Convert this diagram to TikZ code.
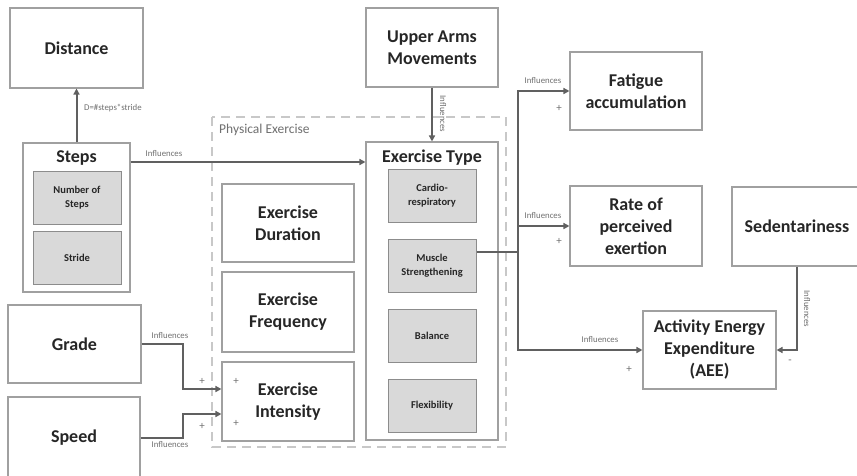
\documentclass[tikz,border=0pt]{standalone}
\usepackage{fontspec}
\setmainfont{Carlito}
\usetikzlibrary{arrows.meta}
\definecolor{txt}{HTML}{262626}
\definecolor{bord}{HTML}{A0A0A0}
\definecolor{conn}{HTML}{606060}
\definecolor{subfill}{HTML}{D9D9D9}
\definecolor{subbord}{HTML}{8C8C8C}
\definecolor{dashgray}{HTML}{C8C8C8}
\definecolor{lbl}{HTML}{707070}
\tikzset{
  box/.style={draw=bord, line width=1.1pt, fill=white, text=txt, align=center,
    font=\fontsize{18}{22}\selectfont\bfseries, inner sep=0pt},
  subbox/.style={draw=subbord, line width=1pt, fill=subfill, text=txt, align=center,
    font=\fontsize{10.5}{14}\selectfont\bfseries, inner sep=0pt,
    minimum width=88pt, minimum height=53pt},
  ttl/.style={text=txt, font=\fontsize{18}{22}\selectfont\bfseries, inner sep=0pt},
  wire/.style={draw=conn, line width=2pt},
  arr/.style={wire, -{Triangle[length=6pt,width=6pt]}},
  lab/.style={text=lbl, font=\fontsize{8.8}{10}\selectfont, inner sep=0pt},
  sign/.style={text=lbl, font=\fontsize{11}{12}\selectfont, inner sep=0pt},
}
\begin{document}
\begin{tikzpicture}[x=1pt,y=-1pt]
\useasboundingbox (0,0) rectangle (857,475);
\fill[white] (0,0) rectangle (857,475);
% dashed group
\draw[draw=dashgray, line width=1.6pt, dash pattern=on 9pt off 6pt] (212,117) rectangle (506,447);
\node[anchor=west, text=lbl, font=\fontsize{13.5}{15}\selectfont, inner sep=0pt] (pe) at (219,130) {Physical Exercise};
% boxes
\node[box, minimum width=133pt, minimum height=80pt] (dist) at (76.5,48) {Distance};
\node[box, minimum width=107pt, minimum height=149pt] (steps) at (76.5,217.5) {};
\node[ttl] (stepst) at (76.5,158) {Steps};
\node[subbox] (nos) at (77,197.5) {Number of\\Steps};
\node[subbox] (stride) at (77,257.5) {Stride};
\node[box, minimum width=132pt, minimum height=79pt] (upper) at (432,47.5) {Upper Arms\\Movements};
\node[box, minimum width=132pt, minimum height=298pt] (etype) at (432,291) {};
\node[ttl] (etypet) at (432,158) {Exercise Type};
\node[subbox] (cardio) at (432,195.5) {Cardio-\\respiratory};
\node[subbox] (muscle) at (432,265.5) {Muscle\\Strengthening};
\node[subbox] (balance) at (432,335.5) {Balance};
\node[subbox] (flex) at (432,405.5) {Flexibility};
\node[box, minimum width=132pt, minimum height=78pt] (dur) at (288,223) {Exercise\\Duration};
\node[box, minimum width=132pt, minimum height=80pt] (freq) at (288,312) {Exercise\\Frequency};
\node[box, minimum width=132pt, minimum height=79pt] (inten) at (288,401.5) {Exercise\\Intensity};
\node[box, minimum width=133pt, minimum height=78pt] (grade) at (74.5,344) {Grade};
\node[box, minimum width=132pt, minimum height=81pt] (speed) at (74,437.5) {Speed};
\node[box, minimum width=132pt, minimum height=78pt] (fatigue) at (636,91) {Fatigue\\accumulation};
\node[box, minimum width=132pt, minimum height=80pt] (rate) at (636,226) {Rate of\\perceived\\exertion};
\node[box, minimum width=130pt, minimum height=79pt] (sed) at (797,226.5) {Sedentariness};
\node[box, minimum width=133pt, minimum height=78pt] (aee) at (709.5,350) {Activity Energy\\Expenditure\\(AEE)};
% connectors
\draw[arr] (steps.north) -- (dist.south);
\node[lab, anchor=west] (dlab) at (84,108) {D=\#steps*stride};
\coordinate (sy) at (0,162);
\draw[arr] (steps.east |- sy) -- (etype.west |- sy);
\node[lab] (l1) at (164,153) {Influences};
\draw[arr] (upper.south) -- (etype.north);
\node[lab, rotate=-90] (l2) at (443,114) {Influences};
\coordinate (gj) at (183,389);
\draw[arr] (grade.east) -| (gj) -- (inten.west |- gj);
\node[lab] (l3) at (170,335) {Influences};
\coordinate (sj) at (183,414);
\draw[arr] (speed.east) -| (sj) -- (inten.west |- sj);
\node[lab] (l4) at (170,444) {Influences};
\node[sign] (p1) at (202,381) {+};
\node[sign] (p2) at (236,381) {+};
\node[sign] (p3) at (202,426) {+};
\node[sign] (p4) at (236,423) {+};
\coordinate (mj) at (518,252);
\draw[wire] (muscle.east |- mj) -- (mj);
\draw[arr] (mj) |- (fatigue.west);
\draw[arr] (mj) |- (rate.west);
\draw[arr] (mj) |- (aee.west);
\node[lab] (l5) at (543,80) {Influences};
\node[sign] (p5) at (559,108) {+};
\node[lab] (l6) at (543,215) {Influences};
\node[sign] (p6) at (559,241) {+};
\node[lab] (l7) at (600,339) {Influences};
\node[sign] (p7) at (629,369) {+};
\draw[arr] (sed.south) |- (aee.east);
\node[lab, rotate=-90] (l8) at (807,309) {Influences};
\node[sign] (m1) at (790,362) {-};
\end{tikzpicture}
\end{document}
